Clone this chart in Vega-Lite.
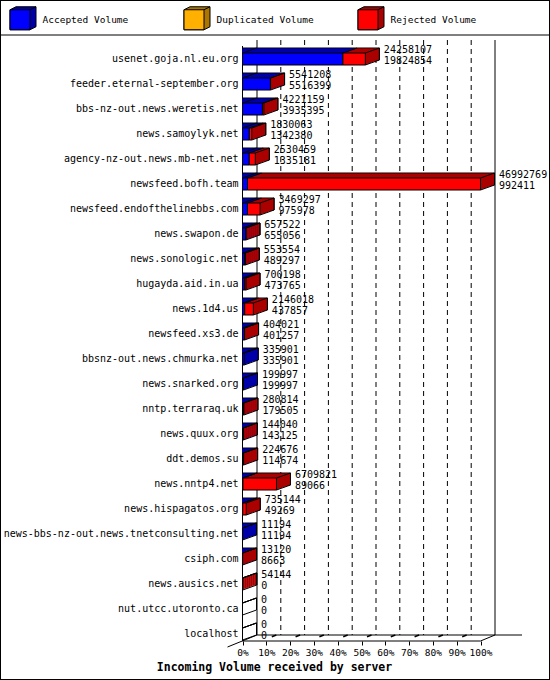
{
  "$schema": "https://vega.github.io/schema/vega-lite/v6.json",
  "width": 550,
  "height": 680,
  "autosize": {"type": "none"},
  "padding": 0,
  "background": "white",
  "datasets": {
    "volume": [
      {"server": "usenet.goja.nl.eu.org", "total": 24258107, "accepted": 19824854},
      {"server": "feeder.eternal-september.org", "total": 5541208, "accepted": 5516399},
      {"server": "bbs-nz-out.news.weretis.net", "total": 4221159, "accepted": 3935395},
      {"server": "news.samoylyk.net", "total": 1830063, "accepted": 1342380},
      {"server": "agency-nz-out.news.mb-net.net", "total": 2530459, "accepted": 1335181},
      {"server": "newsfeed.bofh.team", "total": 46992769, "accepted": 992411},
      {"server": "newsfeed.endofthelinebbs.com", "total": 3469297, "accepted": 975978},
      {"server": "news.swapon.de", "total": 657522, "accepted": 655056},
      {"server": "news.sonologic.net", "total": 553554, "accepted": 489297},
      {"server": "hugayda.aid.in.ua", "total": 700198, "accepted": 473765},
      {"server": "news.1d4.us", "total": 2146018, "accepted": 437857},
      {"server": "newsfeed.xs3.de", "total": 404021, "accepted": 401257},
      {"server": "bbsnz-out.news.chmurka.net", "total": 335901, "accepted": 335901},
      {"server": "news.snarked.org", "total": 199997, "accepted": 199997},
      {"server": "nntp.terraraq.uk", "total": 280814, "accepted": 179505},
      {"server": "news.quux.org", "total": 144040, "accepted": 143125},
      {"server": "ddt.demos.su", "total": 224676, "accepted": 114674},
      {"server": "news.nntp4.net", "total": 6709821, "accepted": 89066},
      {"server": "news.hispagatos.org", "total": 735144, "accepted": 49269},
      {"server": "news-bbs-nz-out.news.tnetconsulting.net", "total": 11194, "accepted": 11194},
      {"server": "csiph.com", "total": 13120, "accepted": 8663},
      {"server": "news.ausics.net", "total": 54144, "accepted": 0},
      {"server": "nut.utcc.utoronto.ca", "total": 0, "accepted": 0},
      {"server": "localhost", "total": 0, "accepted": 0}
    ],
    "ticks": [
      {"k": 0, "p": 0},
      {"k": 1, "p": 4699276.9},
      {"k": 2, "p": 9398553.8},
      {"k": 3, "p": 14097830.7},
      {"k": 4, "p": 18797107.6},
      {"k": 5, "p": 23496384.5},
      {"k": 6, "p": 28195661.4},
      {"k": 7, "p": 32894938.3},
      {"k": 8, "p": 37594215.2},
      {"k": 9, "p": 42293492.1},
      {"k": 10, "p": 46992769}
    ],
    "frame": [{"k": 0}]
  },
  "data": {"name": "volume"},
  "layer": [
    {
      "transform": [{"filter": "datum.accepted > 0"}],
      "mark": {"type": "bar", "stroke": "black", "strokeWidth": 1, "xOffset": 14, "x2Offset": 14, "yOffset": -5, "y2Offset": -5},
      "encoding": {
        "y": {
          "field": "server", "type": "nominal", "title": null,
          "scale": {
            "domain": ["usenet.goja.nl.eu.org", "feeder.eternal-september.org", "bbs-nz-out.news.weretis.net", "news.samoylyk.net", "agency-nz-out.news.mb-net.net", "newsfeed.bofh.team", "newsfeed.endofthelinebbs.com", "news.swapon.de", "news.sonologic.net", "hugayda.aid.in.ua", "news.1d4.us", "newsfeed.xs3.de", "bbsnz-out.news.chmurka.net", "news.snarked.org", "nntp.terraraq.uk", "news.quux.org", "ddt.demos.su", "news.nntp4.net", "news.hispagatos.org", "news-bbs-nz-out.news.tnetconsulting.net", "csiph.com", "news.ausics.net", "nut.utcc.utoronto.ca", "localhost"],
            "range": [46.5, 646.5], "paddingInner": 0.52, "paddingOuter": 0.26
          }
        },
        "x": {
          "field": "accepted", "type": "quantitative", "stack": null,
          "scale": {"domain": [-47881288, 60715447], "nice": false, "zero": false},
          "axis": {
            "title": "Incoming Volume received by server",
            "values": [0, 4699276.9, 9398553.8, 14097830.7, 18797107.6, 23496384.5, 28195661.4, 32894938.3, 37594215.2, 42293492.1, 46992769],
            "labelExpr": "round(datum.value / 469927.69) + '%'"
          }
        },
        "color": {
          "datum": "Accepted Volume side", "type": "nominal", "title": null,
          "scale": {"domain": ["Accepted Volume side", "Duplicated Volume side", "Rejected Volume side"], "range": ["#0000aa", "#aa7500", "#aa0000"]},
          "legend": {
            "orient": "none", "legendX": 9.5, "legendY": 9, "direction": "horizontal", "title": null,
            "symbolType": "M-1,-1L-0.4,-1.3L1.6,-1.3L1.6,0.7L1,1L-1,1ZM1,-1L1.6,-1.3",
            "symbolSize": 400, "symbolStrokeColor": "black", "symbolStrokeWidth": 1, "symbolOpacity": 1,
            "labelExpr": "replace(datum.label, ' side', '')",
            "labelOpacity": 0, "labelFont": "DejaVu Sans Mono", "labelFontSize": 9.5, "labelOffset": 12,
            "columnPadding": 41, "gridAlign": "all", "zindex": 1, "padding": 0
          }
        }
      }
    },
    {
      "data": {"name": "frame"},
      "mark": {"type": "rule", "color": "black", "yOffset": -24},
      "encoding": {
        "y": {"datum": "usenet.goja.nl.eu.org", "type": "nominal", "title": null}
      }
    },
    {
      "data": {"name": "ticks"},
      "transform": [{"filter": "datum.k == 0 || datum.k == 10"}],
      "mark": {"type": "rule", "color": "black", "xOffset": 14.5, "yOffset": -19, "y2Offset": 1},
      "encoding": {
        "x": {"field": "p", "type": "quantitative"},
        "y": {"datum": "usenet.goja.nl.eu.org", "type": "nominal", "title": null},
        "y2": {"datum": "localhost"}
      }
    },
    {
      "data": {"name": "ticks"},
      "transform": [{"filter": "datum.k >= 1 && datum.k <= 9"}],
      "mark": {"type": "rule", "color": "black", "strokeDash": [5, 4], "xOffset": 14.5, "yOffset": -19, "y2Offset": 1},
      "encoding": {
        "x": {"field": "p", "type": "quantitative"},
        "y": {"datum": "usenet.goja.nl.eu.org", "type": "nominal", "title": null},
        "y2": {"datum": "localhost"}
      }
    },
    {
      "data": {"name": "frame"},
      "mark": {"type": "rule", "color": "black", "yOffset": -13, "y2Offset": 7},
      "encoding": {
        "x": {"datum": 0, "type": "quantitative"},
        "y": {"datum": "usenet.goja.nl.eu.org", "type": "nominal", "title": null},
        "y2": {"datum": "localhost"}
      }
    },
    {
      "data": {"name": "frame"},
      "mark": {"type": "rule", "color": "black", "yOffset": 7},
      "encoding": {
        "x": {"datum": 0, "type": "quantitative"},
        "x2": {"datum": 46992769},
        "y": {"datum": "localhost", "type": "nominal", "title": null}
      }
    },
    {
      "data": {"name": "frame"},
      "mark": {"type": "rule", "color": "black", "xOffset": 14.5, "x2Offset": 41.5, "yOffset": 1},
      "encoding": {
        "x": {"datum": 0, "type": "quantitative"},
        "x2": {"datum": 46992769},
        "y": {"datum": "localhost", "type": "nominal", "title": null}
      }
    },
    {
      "data": {"name": "frame"},
      "mark": {"type": "rule", "color": "black", "x2Offset": 14.5, "yOffset": 7, "y2Offset": 1},
      "encoding": {
        "x": {"datum": 46992769, "type": "quantitative"},
        "x2": {"datum": 46992769},
        "y": {"datum": "localhost", "type": "nominal", "title": null},
        "y2": {"datum": "localhost"}
      }
    },
    {
      "data": {"name": "frame"},
      "mark": {"type": "rule", "color": "black", "xOffset": -15, "x2Offset": 14.5, "yOffset": 13, "y2Offset": 1},
      "encoding": {
        "x": {"datum": 0, "type": "quantitative"},
        "x2": {"datum": 0},
        "y": {"datum": "localhost", "type": "nominal", "title": null},
        "y2": {"datum": "localhost"}
      }
    },
    {
      "data": {"name": "ticks"},
      "transform": [{"filter": "datum.k >= 1 && datum.k <= 9"}],
      "mark": {"type": "rule", "color": "black", "strokeWidth": 1.5, "xOffset": 5.5, "x2Offset": 10, "yOffset": 2.7, "y2Offset": 1},
      "encoding": {
        "x": {"field": "p", "type": "quantitative"},
        "x2": {"field": "p"},
        "y": {"datum": "localhost", "type": "nominal", "title": null},
        "y2": {"datum": "localhost"}
      }
    },
    {
      "transform": [{"filter": "datum.accepted > 0"}],
      "mark": {"type": "bar", "strokeWidth": 0, "xOffset": 2, "x2Offset": 2, "yOffset": -0.714, "y2Offset": -0.714},
      "encoding": {
        "y": {"field": "server", "type": "nominal", "title": null},
        "x": {"field": "accepted", "type": "quantitative", "stack": null},
        "color": {"datum": "Accepted Volume side", "type": "nominal", "title": null}
      }
    },
    {
      "transform": [{"filter": "datum.accepted > 0"}],
      "mark": {"type": "bar", "strokeWidth": 0, "xOffset": 4, "x2Offset": 4, "yOffset": -1.429, "y2Offset": -1.429},
      "encoding": {
        "y": {"field": "server", "type": "nominal", "title": null},
        "x": {"field": "accepted", "type": "quantitative", "stack": null},
        "color": {"datum": "Accepted Volume side", "type": "nominal", "title": null}
      }
    },
    {
      "transform": [{"filter": "datum.accepted > 0"}],
      "mark": {"type": "bar", "strokeWidth": 0, "xOffset": 6, "x2Offset": 6, "yOffset": -2.143, "y2Offset": -2.143},
      "encoding": {
        "y": {"field": "server", "type": "nominal", "title": null},
        "x": {"field": "accepted", "type": "quantitative", "stack": null},
        "color": {"datum": "Accepted Volume side", "type": "nominal", "title": null}
      }
    },
    {
      "transform": [{"filter": "datum.accepted > 0"}],
      "mark": {"type": "bar", "strokeWidth": 0, "xOffset": 8, "x2Offset": 8, "yOffset": -2.857, "y2Offset": -2.857},
      "encoding": {
        "y": {"field": "server", "type": "nominal", "title": null},
        "x": {"field": "accepted", "type": "quantitative", "stack": null},
        "color": {"datum": "Accepted Volume side", "type": "nominal", "title": null}
      }
    },
    {
      "transform": [{"filter": "datum.accepted > 0"}],
      "mark": {"type": "bar", "strokeWidth": 0, "xOffset": 10, "x2Offset": 10, "yOffset": -3.571, "y2Offset": -3.571},
      "encoding": {
        "y": {"field": "server", "type": "nominal", "title": null},
        "x": {"field": "accepted", "type": "quantitative", "stack": null},
        "color": {"datum": "Accepted Volume side", "type": "nominal", "title": null}
      }
    },
    {
      "transform": [{"filter": "datum.accepted > 0"}],
      "mark": {"type": "bar", "strokeWidth": 0, "xOffset": 12, "x2Offset": 12, "yOffset": -4.286, "y2Offset": -4.286},
      "encoding": {
        "y": {"field": "server", "type": "nominal", "title": null},
        "x": {"field": "accepted", "type": "quantitative", "stack": null},
        "color": {"datum": "Accepted Volume side", "type": "nominal", "title": null}
      }
    },
    {
      "transform": [{"filter": "datum.total > datum.accepted"}],
      "mark": {"type": "bar", "stroke": "black", "strokeWidth": 1, "xOffset": 14, "x2Offset": 14, "yOffset": -5, "y2Offset": -5},
      "encoding": {
        "y": {"field": "server", "type": "nominal", "title": null},
        "x": {"field": "accepted", "type": "quantitative"},
        "x2": {"field": "total"},
        "color": {"datum": "Rejected Volume side", "type": "nominal", "title": null}
      }
    },
    {
      "transform": [{"filter": "datum.total > datum.accepted"}],
      "mark": {"type": "bar", "strokeWidth": 0, "xOffset": 2, "x2Offset": 2, "yOffset": -0.714, "y2Offset": -0.714},
      "encoding": {
        "y": {"field": "server", "type": "nominal", "title": null},
        "x": {"field": "accepted", "type": "quantitative"},
        "x2": {"field": "total"},
        "color": {"datum": "Rejected Volume side", "type": "nominal", "title": null}
      }
    },
    {
      "transform": [{"filter": "datum.total > datum.accepted"}],
      "mark": {"type": "bar", "strokeWidth": 0, "xOffset": 4, "x2Offset": 4, "yOffset": -1.429, "y2Offset": -1.429},
      "encoding": {
        "y": {"field": "server", "type": "nominal", "title": null},
        "x": {"field": "accepted", "type": "quantitative"},
        "x2": {"field": "total"},
        "color": {"datum": "Rejected Volume side", "type": "nominal", "title": null}
      }
    },
    {
      "transform": [{"filter": "datum.total > datum.accepted"}],
      "mark": {"type": "bar", "strokeWidth": 0, "xOffset": 6, "x2Offset": 6, "yOffset": -2.143, "y2Offset": -2.143},
      "encoding": {
        "y": {"field": "server", "type": "nominal", "title": null},
        "x": {"field": "accepted", "type": "quantitative"},
        "x2": {"field": "total"},
        "color": {"datum": "Rejected Volume side", "type": "nominal", "title": null}
      }
    },
    {
      "transform": [{"filter": "datum.total > datum.accepted"}],
      "mark": {"type": "bar", "strokeWidth": 0, "xOffset": 8, "x2Offset": 8, "yOffset": -2.857, "y2Offset": -2.857},
      "encoding": {
        "y": {"field": "server", "type": "nominal", "title": null},
        "x": {"field": "accepted", "type": "quantitative"},
        "x2": {"field": "total"},
        "color": {"datum": "Rejected Volume side", "type": "nominal", "title": null}
      }
    },
    {
      "transform": [{"filter": "datum.total > datum.accepted"}],
      "mark": {"type": "bar", "strokeWidth": 0, "xOffset": 10, "x2Offset": 10, "yOffset": -3.571, "y2Offset": -3.571},
      "encoding": {
        "y": {"field": "server", "type": "nominal", "title": null},
        "x": {"field": "accepted", "type": "quantitative"},
        "x2": {"field": "total"},
        "color": {"datum": "Rejected Volume side", "type": "nominal", "title": null}
      }
    },
    {
      "transform": [{"filter": "datum.total > datum.accepted"}],
      "mark": {"type": "bar", "strokeWidth": 0, "xOffset": 12, "x2Offset": 12, "yOffset": -4.286, "y2Offset": -4.286},
      "encoding": {
        "y": {"field": "server", "type": "nominal", "title": null},
        "x": {"field": "accepted", "type": "quantitative"},
        "x2": {"field": "total"},
        "color": {"datum": "Rejected Volume side", "type": "nominal", "title": null}
      }
    },
    {
      "transform": [{"filter": "datum.total > 0"}],
      "mark": {"type": "tick", "size": 12, "thickness": 2.2, "opacity": 1, "xOffset": 0.5, "yOffset": -0.714},
      "encoding": {
        "y": {"field": "server", "type": "nominal", "title": null},
        "x": {"field": "total", "type": "quantitative"},
        "fill": {"condition": {"test": "datum.total > datum.accepted", "value": "#aa0000"}, "value": "#0000aa"}
      }
    },
    {
      "transform": [{"filter": "datum.total > 0"}],
      "mark": {"type": "tick", "size": 12, "thickness": 2.2, "opacity": 1, "xOffset": 2.5, "yOffset": -1.429},
      "encoding": {
        "y": {"field": "server", "type": "nominal", "title": null},
        "x": {"field": "total", "type": "quantitative"},
        "fill": {"condition": {"test": "datum.total > datum.accepted", "value": "#aa0000"}, "value": "#0000aa"}
      }
    },
    {
      "transform": [{"filter": "datum.total > 0"}],
      "mark": {"type": "tick", "size": 12, "thickness": 2.2, "opacity": 1, "xOffset": 4.5, "yOffset": -2.143},
      "encoding": {
        "y": {"field": "server", "type": "nominal", "title": null},
        "x": {"field": "total", "type": "quantitative"},
        "fill": {"condition": {"test": "datum.total > datum.accepted", "value": "#aa0000"}, "value": "#0000aa"}
      }
    },
    {
      "transform": [{"filter": "datum.total > 0"}],
      "mark": {"type": "tick", "size": 12, "thickness": 2.2, "opacity": 1, "xOffset": 6.5, "yOffset": -2.857},
      "encoding": {
        "y": {"field": "server", "type": "nominal", "title": null},
        "x": {"field": "total", "type": "quantitative"},
        "fill": {"condition": {"test": "datum.total > datum.accepted", "value": "#aa0000"}, "value": "#0000aa"}
      }
    },
    {
      "transform": [{"filter": "datum.total > 0"}],
      "mark": {"type": "tick", "size": 12, "thickness": 2.2, "opacity": 1, "xOffset": 8.5, "yOffset": -3.571},
      "encoding": {
        "y": {"field": "server", "type": "nominal", "title": null},
        "x": {"field": "total", "type": "quantitative"},
        "fill": {"condition": {"test": "datum.total > datum.accepted", "value": "#aa0000"}, "value": "#0000aa"}
      }
    },
    {
      "transform": [{"filter": "datum.total > 0"}],
      "mark": {"type": "tick", "size": 12, "thickness": 2.2, "opacity": 1, "xOffset": 10.5, "yOffset": -4.286},
      "encoding": {
        "y": {"field": "server", "type": "nominal", "title": null},
        "x": {"field": "total", "type": "quantitative"},
        "fill": {"condition": {"test": "datum.total > datum.accepted", "value": "#aa0000"}, "value": "#0000aa"}
      }
    },
    {
      "transform": [{"filter": "datum.total > 0"}],
      "mark": {"type": "tick", "size": 12, "thickness": 2.2, "opacity": 1, "xOffset": 12.5, "yOffset": -5},
      "encoding": {
        "y": {"field": "server", "type": "nominal", "title": null},
        "x": {"field": "total", "type": "quantitative"},
        "fill": {"condition": {"test": "datum.total > datum.accepted", "value": "#aa0000"}, "value": "#0000aa"}
      }
    },
    {
      "mark": {"type": "rule", "color": "black", "xOffset": 14, "x2Offset": 14, "yOffset": -11, "y2Offset": 1},
      "encoding": {
        "y": {"field": "server", "type": "nominal", "title": null},
        "y2": {"field": "server"},
        "x": {"field": "total", "type": "quantitative"},
        "x2": {"field": "total"}
      }
    },
    {
      "mark": {"type": "rule", "color": "black", "x2Offset": 14, "yOffset": -6, "y2Offset": -11},
      "encoding": {
        "y": {"field": "server", "type": "nominal", "title": null},
        "y2": {"field": "server"},
        "x": {"datum": 0, "type": "quantitative"},
        "x2": {"datum": 0}
      }
    },
    {
      "mark": {"type": "rule", "color": "black", "x2Offset": 14, "yOffset": -6, "y2Offset": -11},
      "encoding": {
        "y": {"field": "server", "type": "nominal", "title": null},
        "y2": {"field": "server"},
        "x": {"field": "accepted", "type": "quantitative"},
        "x2": {"field": "accepted"}
      }
    },
    {
      "mark": {"type": "rule", "color": "black", "x2Offset": 14, "yOffset": -6, "y2Offset": -11},
      "encoding": {
        "y": {"field": "server", "type": "nominal", "title": null},
        "y2": {"field": "server"},
        "x": {"field": "total", "type": "quantitative"},
        "x2": {"field": "total"}
      }
    },
    {
      "mark": {"type": "rule", "color": "black", "x2Offset": 14, "yOffset": 6, "y2Offset": 1},
      "encoding": {
        "y": {"field": "server", "type": "nominal", "title": null},
        "y2": {"field": "server"},
        "x": {"field": "total", "type": "quantitative"},
        "x2": {"field": "total"}
      }
    },
    {
      "mark": {"type": "bar", "stroke": "black", "strokeWidth": 1},
      "encoding": {
        "y": {"field": "server", "type": "nominal", "title": null},
        "x": {"field": "accepted", "type": "quantitative", "stack": null},
        "fill": {
          "datum": "Accepted Volume", "type": "nominal", "title": null,
          "scale": {"domain": ["Accepted Volume", "Duplicated Volume", "Rejected Volume"], "range": ["#0000ff", "#ffb000", "#ff0000"]},
          "legend": {
            "orient": "none", "legendX": 9.5, "legendY": 9, "direction": "horizontal", "title": null,
            "symbolType": "square", "symbolSize": 400, "symbolStrokeColor": "black", "symbolStrokeWidth": 1, "symbolOpacity": 1,
            "labelColor": "black", "labelFont": "DejaVu Sans Mono", "labelFontSize": 9.5, "labelOffset": 12,
            "columnPadding": 41, "gridAlign": "all", "zindex": 2, "padding": 0
          }
        }
      }
    },
    {
      "transform": [{"filter": "datum.total > datum.accepted"}],
      "mark": {"type": "bar", "stroke": "black", "strokeWidth": 1},
      "encoding": {
        "y": {"field": "server", "type": "nominal", "title": null},
        "x": {"field": "accepted", "type": "quantitative"},
        "x2": {"field": "total"},
        "fill": {"datum": "Rejected Volume", "type": "nominal", "title": null}
      }
    },
    {
      "mark": {"type": "text", "align": "left", "baseline": "middle", "xOffset": 18.5, "yOffset": -9, "font": "DejaVu Sans Mono", "fontSize": 10, "color": "black"},
      "encoding": {
        "y": {"field": "server", "type": "nominal", "title": null},
        "x": {"field": "total", "type": "quantitative"},
        "text": {"field": "total", "type": "quantitative", "format": "d"}
      }
    },
    {
      "mark": {"type": "text", "align": "left", "baseline": "middle", "xOffset": 18.5, "yOffset": 2, "font": "DejaVu Sans Mono", "fontSize": 10, "color": "black"},
      "encoding": {
        "y": {"field": "server", "type": "nominal", "title": null},
        "x": {"field": "total", "type": "quantitative"},
        "text": {"field": "accepted", "type": "quantitative", "format": "d"}
      }
    }
  ],
  "config": {
    "view": {"stroke": "black", "strokeWidth": 2},
    "font": "DejaVu Sans Mono",
    "axis": {"grid": false, "labelColor": "black", "labelFont": "DejaVu Sans Mono", "titleFont": "DejaVu Sans Mono", "titleColor": "black"},
    "axisY": {"domain": false, "ticks": false, "labelFontSize": 10, "labelPadding": 4, "offset": -242, "labelLimit": 300},
    "axisX": {
      "domain": false, "ticks": true, "tickSize": 4, "tickColor": "black", "labelFontSize": 9.5, "labelPadding": 2,
      "offset": -39, "labelOverlap": false, "labelFlush": false,
      "titleFontSize": 11.5, "titleFontWeight": "bold", "titleX": 274, "titleY": 26, "titleAlign": "center", "titleBaseline": "middle"
    }
  }
}
